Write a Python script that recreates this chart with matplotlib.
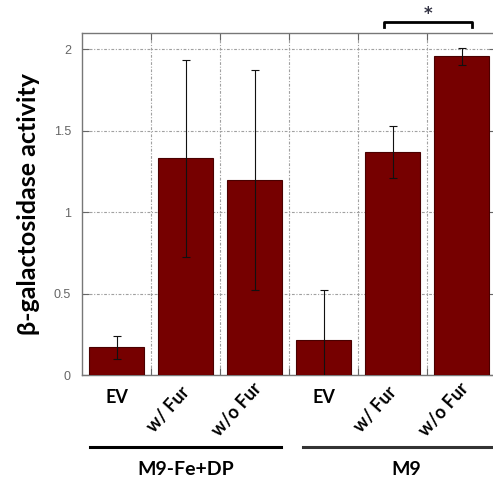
import matplotlib
matplotlib.use("Agg")
import matplotlib.pyplot as plt
import matplotlib.transforms as mtransforms

categories = ["EV", "w/ Fur", "w/o Fur", "EV", "w/ Fur", "w/o Fur"]
values = [0.17, 1.33, 1.195, 0.215, 1.368, 1.957]
errors = [0.07, 0.605, 0.675, 0.31, 0.158, 0.053]
groups = ["M9-Fe+DP", "M9"]
yticks = [0, 0.5, 1, 1.5, 2]
ytick_labels = ["0", "0.5", "1", "1.5", "2"]

W, H = 493, 478
fig = plt.figure(figsize=(W / 100, H / 100), dpi=100)
ax_l, ax_r, ax_t, ax_b = 82, 496, 33, 375
ax = fig.add_axes([ax_l / W, 1 - ax_b / H, (ax_r - ax_l) / W, (ax_b - ax_t) / H])

x = list(range(len(categories)))
ax.bar(x, values, width=0.8, color="#760000", edgecolor="#4a0000", linewidth=0.8, zorder=3)
ax.errorbar(x, values, yerr=errors, fmt="none", ecolor="#111111",
            elinewidth=0.8, capsize=3, capthick=0.8, zorder=4)

ax.set_xlim(-0.5, 5.5)
ax.set_ylim(0, 2.1)
ax.set_yticks(yticks)
ax.set_yticklabels(ytick_labels, color="#666666", fontsize=9, family="Liberation Sans")
ax.set_xticks([0.5, 1.5, 2.5, 3.5, 4.5])
ax.set_xticklabels([])
ax.tick_params(axis="both", direction="in", length=5, width=0.8, color="#666666",
               top=True, right=True, bottom=True)
ax.tick_params(axis="y", pad=8)
gls = (0, (2.5, 1.5, 1, 1.5))
ax.grid(True, color="#a0a0a0", linestyle=gls, linewidth=0.8, zorder=0)
for s in ax.spines.values():
    s.set_color("#777777")
    s.set_linewidth(1.0)

ax.set_ylabel("β-galactosidase activity", fontsize=18, fontweight="bold",
              family="Lato", labelpad=10)

trans = mtransforms.blended_transform_factory(ax.transData, ax.transAxes)
for xi, lab in zip(x, categories):
    if lab == "EV":
        ax.text(xi, -0.065, lab, transform=trans, ha="center", va="center",
                fontsize=13, fontweight="bold", family="Lato")
    else:
        ax.text(xi - 0.25, -0.102, lab, transform=trans, ha="center", va="center",
                rotation=48, fontsize=13, fontweight="bold", family="Lato")

ax.plot([-0.38, 2.38], [-0.21, -0.21], transform=trans, color="black", lw=2.2, clip_on=False)
ax.plot([2.70, 5.6], [-0.21, -0.21], transform=trans, color="#333333", lw=2.2, clip_on=False)
ax.text(1.0, -0.275, groups[0], transform=trans, ha="center", va="center",
        fontsize=14, fontweight="bold", family="Lato")
ax.text(4.2, -0.275, groups[1], transform=trans, ha="center", va="center",
        fontsize=14, fontweight="bold", family="Lato")

# significance bracket
ax.plot([3.87, 3.87, 5.15, 5.15], [2.135, 2.166, 2.166, 2.135], color="black",
        lw=2.0, clip_on=False)
ax.text(4.51, 2.215, "*", ha="center", va="center", fontsize=12, fontweight="bold",
        clip_on=False, color="#333344")

fig.savefig("out.png", dpi=100)
